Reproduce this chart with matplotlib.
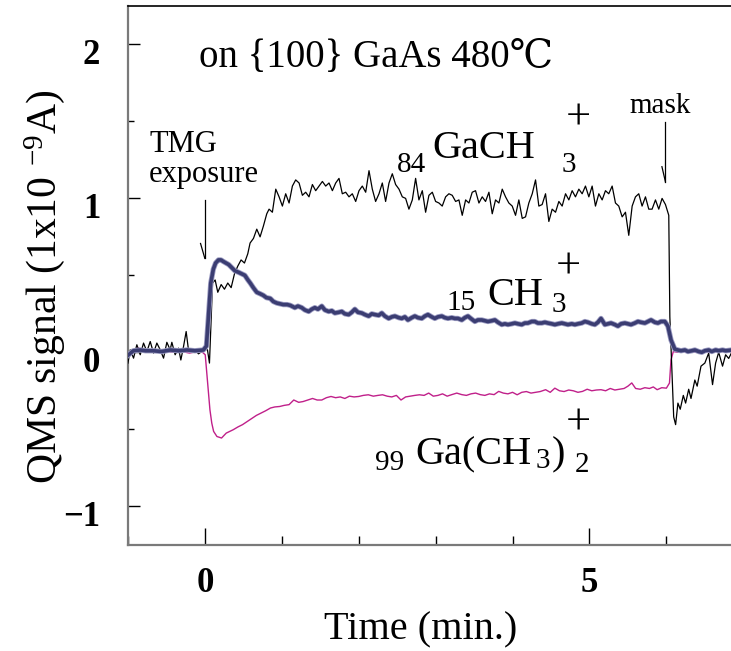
import matplotlib
matplotlib.use("Agg")
import matplotlib.pyplot as plt
import matplotlib.patheffects as pe
from matplotlib.transforms import ScaledTranslation
from matplotlib.ticker import MultipleLocator

plt.rcParams['font.family'] = ['Liberation Serif', 'DejaVu Serif']
plt.rcParams['mathtext.fontset'] = 'custom'
plt.rcParams['mathtext.rm'] = 'Liberation Serif'
plt.rcParams['mathtext.it'] = 'Liberation Serif:italic'

# ---- m/z 84  GaCH3+ (thin black trace) ----
t_gach3 = [-1.0, -0.97, -0.927, -0.884, -0.84, -0.797, -0.754, -0.71, -0.667, -0.624,
           -0.58, -0.537, -0.494, -0.451, -0.429, -0.386, -0.342, -0.312, -0.277, -0.243,
           -0.213, -0.169, -0.126, -0.083, -0.039, 0.004, 0.034, 0.06,
           0.10, 0.134, 0.168, 0.212, 0.255, 0.298, 0.342, 0.385, 0.428, 0.471, 0.515,
           0.558, 0.588, 0.632, 0.675, 0.718, 0.761, 0.805, 0.835, 0.878, 0.922, 0.965,
           1.008, 1.051, 1.095, 1.138, 1.181, 1.225, 1.268, 1.311, 1.354, 1.398,
           1.441, 1.484, 1.528, 1.571, 1.614, 1.658, 1.701, 1.744, 1.787, 1.831,
           1.874, 1.917, 1.961, 2.004, 2.047, 2.091, 2.134, 2.177, 2.220, 2.264,
           2.307, 2.350, 2.394, 2.437, 2.480, 2.524, 2.567, 2.610, 2.653, 2.697,
           2.740, 2.783, 2.827, 2.870, 2.913, 2.957, 3.000, 3.043, 3.086, 3.130,
           3.173, 3.216, 3.260, 3.303, 3.346, 3.390, 3.433, 3.476, 3.519, 3.563,
           3.606, 3.649, 3.693, 3.736, 3.779, 3.823, 3.866, 3.909, 3.952, 3.996,
           4.039, 4.082, 4.126, 4.169, 4.212, 4.256, 4.299, 4.342, 4.385, 4.429,
           4.472, 4.515, 4.559, 4.602, 4.645, 4.689, 4.732, 4.775, 4.818, 4.862,
           4.905, 4.948, 4.992, 5.035, 5.078, 5.122, 5.165, 5.208, 5.251, 5.295,
           5.338, 5.381, 5.425, 5.468, 5.511, 5.555, 5.598, 5.641, 5.684, 5.728,
           5.771, 5.814, 5.858, 5.901, 5.944, 5.988, 6.031,
           6.045, 6.095, 6.12, 6.15, 6.18, 6.22, 6.25, 6.29, 6.32, 6.37, 6.40, 6.45,
           6.50, 6.55, 6.60, 6.64, 6.68, 6.73, 6.77, 6.81, 6.85]
v_gach3 = [-0.07, 0.016, -0.038, 0.049, -0.016, 0.06, 0.005, 0.07, -0.005, 0.06,
           0.016, -0.038, 0.065, 0.016, 0.065, -0.016, 0.027, -0.05, 0.038, 0.135,
           0.016, 0.0, 0.016, -0.01, 0.005, 0.02, 0.016, -0.07,
           0.45, 0.47, 0.39, 0.44, 0.41, 0.45, 0.42, 0.51, 0.56, 0.60, 0.58,
           0.64, 0.71, 0.74, 0.80, 0.75, 0.82, 0.90, 0.93, 0.91, 1.06, 1.01,
           0.95, 1.03, 0.97, 1.08, 1.12, 1.10, 1.02, 1.04, 1.01, 1.09,
           1.05, 1.08, 1.11, 1.08, 1.10, 1.05, 1.10, 1.13, 1.03, 1.04,
           1.01, 1.03, 0.98, 1.05, 1.08, 1.04, 1.18, 1.06, 0.98, 1.03,
           1.10, 0.98, 1.10, 1.16, 1.09, 1.06, 1.01, 1.00, 0.93, 0.99,
           1.13, 0.99, 1.05, 0.91, 1.02, 1.04, 0.98, 0.97, 0.95, 1.01,
           1.03, 1.02, 0.98, 0.99, 0.89, 0.99, 0.97, 1.04, 1.05, 0.97,
           1.01, 0.98, 1.04, 0.90, 0.99, 0.97, 1.06, 1.01, 0.97, 0.95,
           0.89, 0.99, 0.87, 0.88, 0.97, 1.03, 1.12, 0.95, 0.96, 1.03,
           0.85, 0.93, 0.91, 0.98, 0.95, 1.03, 0.99, 1.05, 1.01, 1.06,
           1.03, 1.08, 1.01, 1.08, 0.95, 1.03, 0.99, 1.05, 1.03, 1.08,
           0.97, 0.95, 0.88, 0.91, 0.76, 0.95, 1.01, 1.03, 0.95, 1.01,
           0.93, 0.93, 0.99, 0.93, 1.00, 0.96, 0.89,
           0.23, -0.42, -0.47, -0.33, -0.37, -0.28, -0.33, -0.24, -0.30, -0.18, -0.22, -0.09,
           -0.07, -0.005, -0.21, -0.07, 0.0, -0.09, -0.016, -0.04, 0.0]

# ---- m/z 15  CH3+ (thick navy trace) ----
t_ch3 = [-1.00, -0.93, -0.84, -0.77, -0.67, -0.56, -0.45, -0.34, -0.23, -0.13, -0.02,
         0.02, 0.047, 0.077, 0.11, 0.14, 0.177, 0.21, 0.24, 0.275, 0.31, 0.35, 0.39,
         0.437, 0.48, 0.52, 0.56, 0.59, 0.63, 0.675, 0.72, 0.76, 0.80, 0.85, 0.89,
         0.935, 0.98, 1.02, 1.07, 1.11, 1.17, 1.21, 1.26, 1.30, 1.35, 1.39, 1.43,
         1.47, 1.52, 1.56, 1.61, 1.65, 1.69, 1.74, 1.78, 1.82, 1.87, 1.91, 1.95,
         1.99, 2.04, 2.08, 2.13, 2.17, 2.21, 2.26, 2.30, 2.34, 2.39, 2.43, 2.47,
         2.52, 2.56, 2.60, 2.64, 2.69, 2.73, 2.77, 2.82, 2.86, 2.90, 2.95, 2.99,
         3.03, 3.08, 3.12, 3.16, 3.21, 3.25, 3.29, 3.34, 3.38, 3.42, 3.47, 3.51,
         3.55, 3.60, 3.64, 3.68, 3.73, 3.77, 3.81, 3.86, 3.90, 3.94, 3.99, 4.03,
         4.07, 4.12, 4.16, 4.20, 4.25, 4.29, 4.33, 4.38, 4.42, 4.46, 4.51, 4.55,
         4.59, 4.64, 4.68, 4.72, 4.77, 4.81, 4.85, 4.90, 4.94, 4.98, 5.03, 5.07,
         5.11, 5.15, 5.20, 5.24, 5.28, 5.33, 5.37, 5.41, 5.46, 5.50, 5.54, 5.59,
         5.63, 5.67, 5.72, 5.76, 5.80, 5.85, 5.89, 5.93, 5.98, 6.02, 6.06, 6.11,
         6.15, 6.19, 6.24, 6.28, 6.33, 6.37, 6.42, 6.46, 6.50, 6.55, 6.59, 6.64,
         6.68, 6.73, 6.77, 6.85]
v_ch3 = [-0.02, 0.01, 0.015, 0.01, 0.01, 0.005, 0.015, 0.01, 0.015, 0.01, 0.015,
         0.04, 0.23, 0.45, 0.54, 0.58, 0.60, 0.60, 0.59, 0.58, 0.57, 0.55, 0.53,
         0.52, 0.51, 0.50, 0.47, 0.45, 0.42, 0.39, 0.38, 0.37, 0.355, 0.35, 0.33,
         0.32, 0.315, 0.31, 0.31, 0.305, 0.29, 0.30, 0.29, 0.275, 0.265, 0.28, 0.29,
         0.28, 0.30, 0.275, 0.265, 0.27, 0.255, 0.26, 0.265, 0.25, 0.245, 0.26, 0.28,
         0.26, 0.255, 0.245, 0.235, 0.25, 0.245, 0.24, 0.255, 0.235, 0.22, 0.23, 0.235,
         0.225, 0.22, 0.23, 0.21, 0.225, 0.235, 0.225, 0.22, 0.235, 0.245, 0.23, 0.22,
         0.23, 0.235, 0.225, 0.22, 0.225, 0.22, 0.22, 0.21, 0.225, 0.235, 0.215, 0.20,
         0.21, 0.21, 0.205, 0.20, 0.205, 0.21, 0.195, 0.18, 0.185, 0.18, 0.185, 0.19,
         0.185, 0.18, 0.19, 0.19, 0.20, 0.20, 0.19, 0.19, 0.195, 0.19, 0.185, 0.18,
         0.185, 0.19, 0.185, 0.18, 0.185, 0.18, 0.185, 0.19, 0.20, 0.195, 0.185, 0.18,
         0.195, 0.22, 0.18, 0.185, 0.19, 0.18, 0.17, 0.185, 0.19, 0.185, 0.18, 0.19,
         0.20, 0.195, 0.19, 0.20, 0.21, 0.195, 0.19, 0.20, 0.20, 0.17, 0.08, 0.02,
         0.015, 0.01, 0.015, 0.005, 0.01, 0.015, 0.005, 0.0, 0.01, 0.015, 0.005, 0.015,
         0.01, 0.015, 0.01, 0.015]

# ---- m/z 99  Ga(CH3)2+ (thin magenta trace) ----
t_gach32 = [-1.00, -0.93, -0.87, -0.80, -0.70, -0.60, -0.50, -0.40, -0.30, -0.20, -0.10,
            -0.03, 0.005, 0.036, 0.066, 0.09, 0.114, 0.157, 0.217, 0.25, 0.278, 0.32,
            0.369, 0.43, 0.49, 0.55, 0.61, 0.67, 0.73, 0.79, 0.853, 0.91, 0.974, 1.03,
            1.095, 1.156, 1.22, 1.277, 1.34, 1.40, 1.46, 1.52, 1.58, 1.64, 1.70, 1.76,
            1.82, 1.88, 1.94, 2.00, 2.06, 2.125, 2.19, 2.25, 2.31, 2.37, 2.43, 2.49,
            2.55, 2.61, 2.67, 2.73, 2.79, 2.85, 2.91, 2.97, 3.03, 3.09, 3.15, 3.21,
            3.275, 3.34, 3.40, 3.46, 3.52, 3.58, 3.64, 3.70, 3.76, 3.82, 3.88, 3.94,
            4.00, 4.06, 4.12, 4.18, 4.24, 4.30, 4.36, 4.43, 4.49, 4.55, 4.61, 4.67,
            4.73, 4.79, 4.85, 4.91, 4.97, 5.03, 5.09, 5.15, 5.21, 5.27, 5.33, 5.39,
            5.45, 5.50, 5.55, 5.60, 5.66, 5.72, 5.78, 5.83, 5.88, 5.94, 6.00, 6.04,
            6.06, 6.09, 6.15, 6.25, 6.35, 6.45, 6.55, 6.65, 6.75, 6.85]
v_gach32 = [-0.005, 0.01, 0.03, 0.005, 0.005, 0.0, 0.005, 0.0, 0.005, -0.005, 0.005,
            0.0, -0.016, -0.20, -0.373, -0.46, -0.514, -0.547, -0.557, -0.54, -0.525, -0.515,
            -0.503, -0.485, -0.47, -0.45, -0.43, -0.41, -0.395, -0.38, -0.362, -0.355, -0.352, -0.345,
            -0.34, -0.31, -0.325, -0.32, -0.31, -0.30, -0.31, -0.31, -0.295, -0.287, -0.295, -0.29,
            -0.30, -0.285, -0.29, -0.287, -0.28, -0.276, -0.285, -0.28, -0.276, -0.285, -0.29, -0.28,
            -0.31, -0.29, -0.285, -0.28, -0.276, -0.28, -0.265, -0.285, -0.28, -0.27, -0.285, -0.275,
            -0.265, -0.275, -0.28, -0.27, -0.265, -0.275, -0.28, -0.27, -0.275, -0.254, -0.265, -0.27,
            -0.26, -0.276, -0.26, -0.255, -0.265, -0.26, -0.255, -0.243, -0.26, -0.233, -0.25, -0.255,
            -0.245, -0.25, -0.26, -0.254, -0.24, -0.25, -0.245, -0.243, -0.25, -0.235, -0.245, -0.24,
            -0.235, -0.22, -0.199, -0.235, -0.24, -0.23, -0.235, -0.225, -0.243, -0.23, -0.233, -0.20,
            -0.05, 0.005, 0.0, 0.005, 0.0, 0.005, 0.0, 0.005, 0.005, 0.005]

y_ticks = [-1, 0, 1, 2]
y_tick_labels = ['\u22121', '0', '1', '2']
x_ticks = [0, 5]
x_tick_labels = ['0', '5']

fig = plt.figure(figsize=(7.31, 6.51), dpi=100)
ax = fig.add_axes([0.175, 0.1633, 0.825, 0.8275])

ax.plot(t_gach32, v_gach32, color='#c0208a', lw=1.0, zorder=3)
ax.plot(t_gach3, v_gach3, color='black', lw=0.9, zorder=4)
ax.plot(t_ch3, v_ch3, color='#3b3d72', lw=2.6, zorder=5,
        path_effects=[pe.Stroke(linewidth=3.8, foreground='#9c9cc2'), pe.Normal()])

ax.set_xlim(-1.0, 6.84)
ax.set_ylim(-1.25, 2.25)

# axes frame
ax.spines['right'].set_visible(False)
ax.spines['top'].set_color('black')
ax.spines['top'].set_linewidth(1.2)
for s in ('left', 'bottom'):
    ax.spines[s].set_color('#7a7a7a')
    ax.spines[s].set_linewidth(1.6)

ax.set_xticks(x_ticks)
ax.set_xticklabels(x_tick_labels)
ax.xaxis.set_minor_locator(MultipleLocator(1))
ax.set_yticks(y_ticks)
ax.set_yticklabels(y_tick_labels)
ax.yaxis.set_minor_locator(MultipleLocator(0.5))
ax.tick_params(axis='x', which='major', direction='in', length=12, width=1.0,
               pad=16, labelsize=25, top=False)
ax.tick_params(axis='x', which='minor', direction='in', length=6.5, width=1.0, top=False)
ax.tick_params(axis='y', which='major', direction='in', length=8.6, width=1.0,
               pad=20, labelsize=25, right=False)
ax.tick_params(axis='y', which='minor', direction='in', length=4.3, width=1.0, right=False)
for lab in ax.get_xticklabels() + ax.get_yticklabels():
    lab.set_fontweight('bold')
for lab in ax.get_yticklabels():
    lab.set_transform(lab.get_transform() + ScaledTranslation(0, -5 / 72, fig.dpi_scale_trans))

ax.set_xlabel('Time (min.)', fontsize=29, va='center')
ax.xaxis.set_label_coords(0.486, -0.158)
ax.set_ylabel('QMS signal (1x10 $^{\\mathrm{-9}}$A)', fontsize=30, va='center')
ax.yaxis.set_label_coords(-0.138, 0.478)

# title and event annotations
ax.text(2.23, 1.854, 'on {100} GaAs 480\u2103', fontsize=28, ha='center', va='baseline')
ax.text(-0.723, 1.302, 'TMG', fontsize=22, ha='left', va='baseline')
ax.text(-0.723, 1.107, 'exposure', fontsize=22, ha='left', va='baseline')
ax.plot([0.0, 0.0], [0.99, 0.61], color='black', lw=0.9)
ax.plot([-0.056, 0.0], [0.707, 0.61], color='black', lw=0.9)
ax.text(5.92, 1.555, 'mask', fontsize=21, ha='center', va='baseline')
ax.plot([5.987, 5.987], [1.499, 1.109], color='black', lw=0.9)
ax.plot([5.942, 5.987], [1.206, 1.109], color='black', lw=0.9)

# species labels
small, big, plus = 21, 29, 32
ax.text(2.68, 1.172, '84', fontsize=small, ha='center', va='baseline')
ax.text(3.62, 1.263, 'GaCH', fontsize=big, ha='center', va='baseline')
ax.text(4.73, 1.172, '3', fontsize=small, ha='center', va='baseline')
ax.text(4.86, 1.445, '+', fontsize=plus, ha='center', va='baseline')

ax.text(3.335, 0.276, '15', fontsize=small, ha='center', va='baseline')
ax.text(4.03, 0.308, 'CH', fontsize=big, ha='center', va='baseline')
ax.text(4.60, 0.265, '3', fontsize=small, ha='center', va='baseline')
ax.text(4.72, 0.477, '+', fontsize=plus, ha='center', va='baseline')

ax.text(2.406, -0.763, '99', fontsize=small, ha='center', va='baseline')
ax.text(3.497, -0.73, 'Ga(CH', fontsize=big, ha='center', va='baseline')
ax.text(4.40, -0.75, '3', fontsize=small, ha='center', va='baseline')
ax.text(4.59, -0.73, ')', fontsize=big, ha='center', va='baseline')
ax.text(4.90, -0.776, '2', fontsize=small, ha='center', va='baseline')
ax.text(4.86, -0.536, '+', fontsize=plus, ha='center', va='baseline')

fig.savefig('out.png', dpi=100)
